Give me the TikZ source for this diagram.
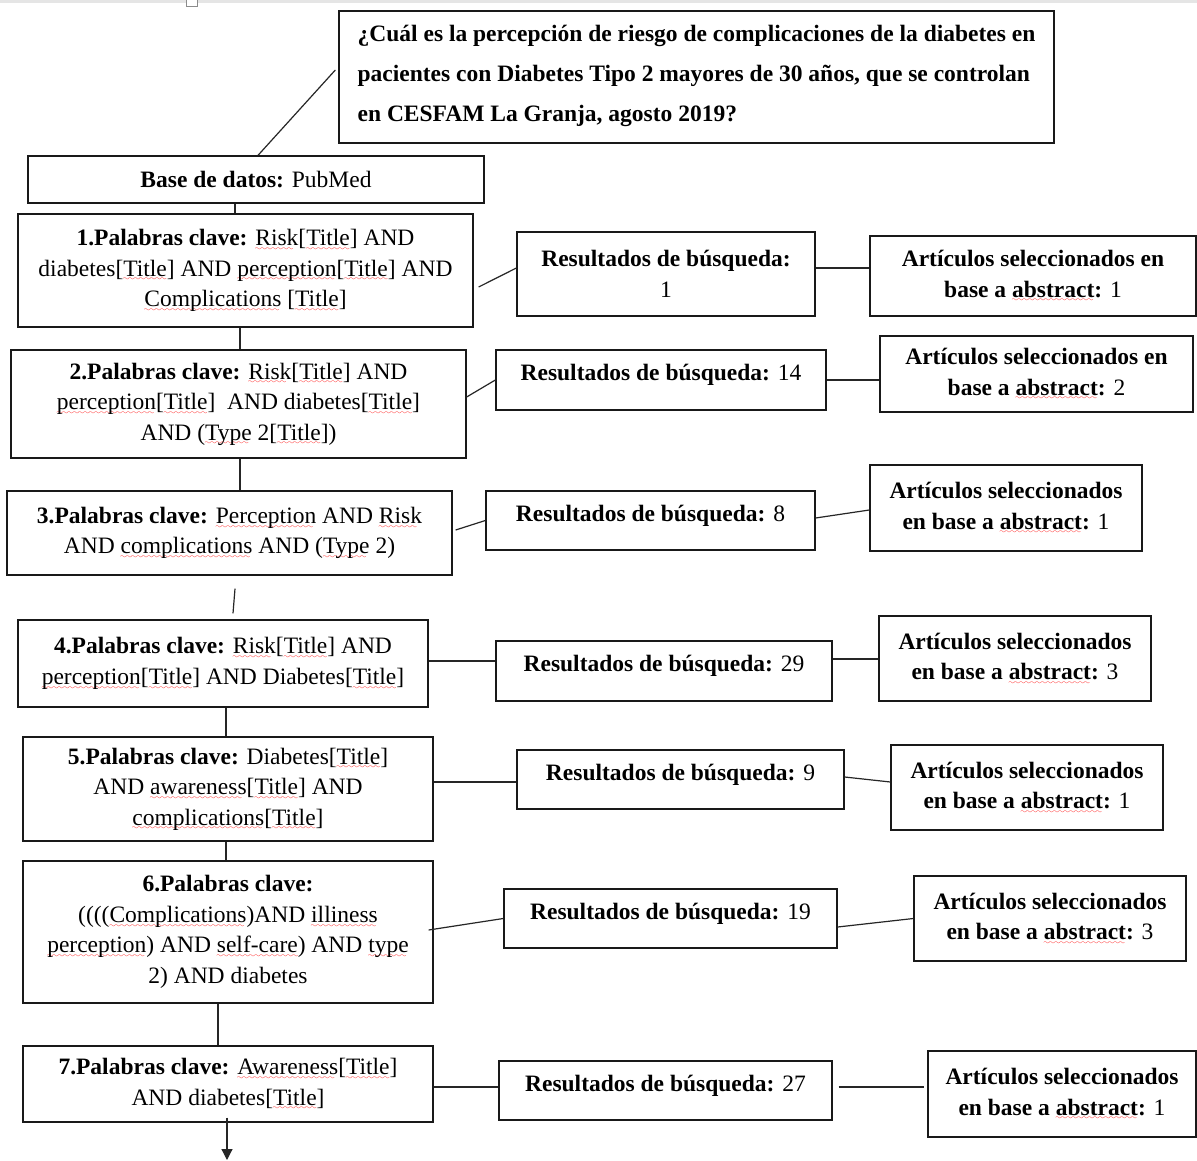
\documentclass[tikz,border=0pt]{standalone}
\usepackage{fontspec}
\setmainfont{Liberation Serif}
\usetikzlibrary{calc,arrows.meta}
\font\rwfont=lasy7
\newcommand\rw[1]{\setbox0\hbox{#1}\rlap{\color{red}\hbox to\wd0{\leaders\hbox{\lower4.8pt\hbox{\rwfont\char58}}\hfill}}\box0\relax}
\newcommand\nf{\fontsize{23.5pt}{30.5pt}\selectfont}
\newcommand\qf{\fontsize{23.5pt}{40pt}\selectfont\bfseries}
\tikzset{
  box/.style={draw=black!90, line width=1.3pt, inner sep=0pt, align=center, font=\nf},
  rone/.style={box, text depth=15pt},
  conn/.style={draw=black!85, line width=1.2pt},
}
\begin{document}
\begin{tikzpicture}[x=1pt,y=-1pt]
\useasboundingbox (0,0) rectangle (1197,1161);
\fill[white] (0,0) rectangle (1197,1161);
% top strip (screenshot edge)
\fill[black!10] (0,0) rectangle (1197,3.5);
\draw[black!45, fill=white, line width=0.6pt] (186,-1) rectangle (197,6);

% question
\node[box, minimum width=715pt, minimum height=132pt, align=left, font=\qf, text depth=7pt] (Q) at (696.5,77)
  {¿Cuál es la percepción de riesgo de complicaciones de la diabetes en\\
   pacientes con Diabetes Tipo 2 mayores de 30 años, que se controlan\\
   en CESFAM La Granja, agosto 2019?};

\node[box, minimum width=456pt, minimum height=47pt] (Base) at (256,179.5) {\textbf{Base de datos:} PubMed};

% left column
\node[box, minimum width=455pt, minimum height=113pt] (B1) at (245.5,270.5)
  {\textbf{1.Palabras clave:} \rw{Risk}[\rw{Title}] AND\\
   diabetes[\rw{Title}] AND \rw{perception}[\rw{Title}] AND\\
   \rw{Complications} [\rw{Title}]};
\node[box, minimum width=455pt, minimum height=108pt] (B2) at (238.5,404)
  {\textbf{2.Palabras clave:} \rw{Risk}[\rw{Title}] AND\\
   \rw{perception}[\rw{Title}]\ \ AND diabetes[\rw{Title}]\\
   AND (\rw{Type} 2[\rw{Title}])};
\node[box, minimum width=445pt, minimum height=84pt] (B3) at (229.5,533)
  {\textbf{3.Palabras clave:} \rw{Perception} AND \rw{Risk}\\
   AND \rw{complications} AND (\rw{Type} 2)};
\node[box, minimum width=410pt, minimum height=87pt] (B4) at (223,663.5)
  {\textbf{4.Palabras clave:} \rw{Risk}[\rw{Title}] AND\\
   \rw{perception}[\rw{Title}] AND Diabetes[\rw{Title}]};
\node[box, minimum width=410pt, minimum height=104pt] (B5) at (228,789)
  {\textbf{5.Palabras clave:} Diabetes[\rw{Title}]\\
   AND \rw{awareness}[\rw{Title}] AND\\
   \rw{complications}[\rw{Title}]};
\node[box, minimum width=410pt, minimum height=142pt] (B6) at (228,932)
  {\textbf{6.Palabras clave:}\\
   ((((\rw{Complications})AND \rw{illiness}\\
   \rw{perception}) AND \rw{self-care}) AND \rw{type}\\
   2) AND diabetes};
\node[box, minimum width=410pt, minimum height=76pt] (B7) at (228,1084)
  {\textbf{7.Palabras clave:} \rw{Awareness}[\rw{Title}]\\
   AND diabetes[\rw{Title}]};

% results column
\node[box, minimum width=298pt, minimum height=84pt] (R1) at (666,274)
  {\textbf{Resultados de búsqueda:}\\ 1};
\node[rone, minimum width=330pt, minimum height=60pt] (R2) at (661,380) {\textbf{Resultados de búsqueda:} 14};
\node[rone, minimum width=329pt, minimum height=59pt] (R3) at (650.5,520.5) {\textbf{Resultados de búsqueda:} 8};
\node[rone, minimum width=336pt, minimum height=60pt] (R4) at (664,671) {\textbf{Resultados de búsqueda:} 29};
\node[rone, minimum width=327pt, minimum height=59pt] (R5) at (680.5,779.5) {\textbf{Resultados de búsqueda:} 9};
\node[rone, minimum width=333pt, minimum height=59pt] (R6) at (670.5,918.5) {\textbf{Resultados de búsqueda:} 19};
\node[rone, minimum width=333pt, minimum height=59pt] (R7) at (665.5,1090.5) {\textbf{Resultados de búsqueda:} 27};

% selected column
\node[box, minimum width=326pt, minimum height=80pt] (A1) at (1033,276)
  {\textbf{Artículos seleccionados en}\\ \textbf{base a \rw{abstract}:} 1};
\node[box, minimum width=313pt, minimum height=76pt] (A2) at (1036.5,374)
  {\textbf{Artículos seleccionados en}\\ \textbf{base a \rw{abstract}:} 2};
\node[box, minimum width=272pt, minimum height=86pt] (A3) at (1006,508)
  {\textbf{Artículos seleccionados}\\ \textbf{en base a \rw{abstract}:} 1};
\node[box, minimum width=272pt, minimum height=85pt] (A4) at (1015,658.5)
  {\textbf{Artículos seleccionados}\\ \textbf{en base a \rw{abstract}:} 3};
\node[box, minimum width=272pt, minimum height=85pt] (A5) at (1027,787.5)
  {\textbf{Artículos seleccionados}\\ \textbf{en base a \rw{abstract}:} 1};
\node[box, minimum width=272pt, minimum height=85pt] (A6) at (1050,918.5)
  {\textbf{Artículos seleccionados}\\ \textbf{en base a \rw{abstract}:} 3};
\node[box, minimum width=268pt, minimum height=86pt] (A7) at (1062,1094)
  {\textbf{Artículos seleccionados}\\ \textbf{en base a \rw{abstract}:} 1};

% vertical connectors
\draw[conn] ([xshift=-3pt,yshift=7pt]Q.west) -- ([xshift=2pt]Base.north);
\draw[conn] ([xshift=-21pt]Base.south) -- ([xshift=-21pt]Base.south |- B1.north);
\draw[conn] ([xshift=-5.5pt]B1.south) -- ([xshift=-5.5pt]B1.south |- B2.north);
\draw[conn] ([xshift=1.5pt]B2.south) -- ([xshift=1.5pt]B2.south |- B3.north);
\coordinate (g3a) at ([xshift=5.5pt,yshift=-13pt]B3.south);
\coordinate (g3b) at ([xshift=10pt,yshift=6pt]B4.north);
\draw[conn] (g3a) -- (g3b);
\draw[conn] ([xshift=3pt]B4.south) -- ([xshift=3pt]B4.south |- B5.north);
\draw[conn] ([xshift=-2pt]B5.south) -- ([xshift=-2pt]B5.south |- B6.north);
\draw[conn] ([xshift=-10pt]B6.south) -- ([xshift=-10pt]B6.south |- B7.north);
\coordinate (end) at (227,1160);
\draw[conn, -{Triangle[length=11pt,width=11pt]}] ([xshift=-1pt,yshift=5pt]B7.south) -- (end);

% row connectors
\draw[conn] ([xshift=5pt,yshift=-16.5pt]B1.east) -- ([yshift=6pt]R1.west);
\draw[conn] ([yshift=6pt]R1.east) -- ([yshift=6pt]R1.east -| A1.west);
\draw[conn] ([yshift=7pt]B2.east) -- (R2.west);
\draw[conn] (R2.east) -- (R2.east -| A2.west);
\draw[conn] ([xshift=3pt,yshift=3pt]B3.east) -- (R3.west);
\draw[conn] ([yshift=2.5pt]R3.east) -- ([yshift=-2pt]A3.west);
\draw[conn] ([yshift=2.5pt]B4.east) -- ([yshift=2.5pt]B4.east -| R4.west);
\draw[conn] ([yshift=12pt]R4.east) -- ([yshift=12pt]R4.east -| A4.west);
\draw[conn] ([yshift=7pt]B5.east) -- ([yshift=7pt]B5.east -| R5.west);
\draw[conn] ([yshift=2.5pt]R5.east) -- ([yshift=5.5pt]A5.west);
\draw[conn] ([xshift=-5pt,yshift=2pt]B6.east) -- (R6.west);
\draw[conn] ([yshift=-8.5pt]R6.east) -- (A6.west);
\draw[conn] ([yshift=-3pt]B7.east) -- ([yshift=-3pt]B7.east -| R7.west);
\draw[conn] ([xshift=6pt,yshift=3.5pt]R7.east) -- ([xshift=-3pt,yshift=3.5pt]R7.east -| A7.west);
\end{tikzpicture}
\end{document}
